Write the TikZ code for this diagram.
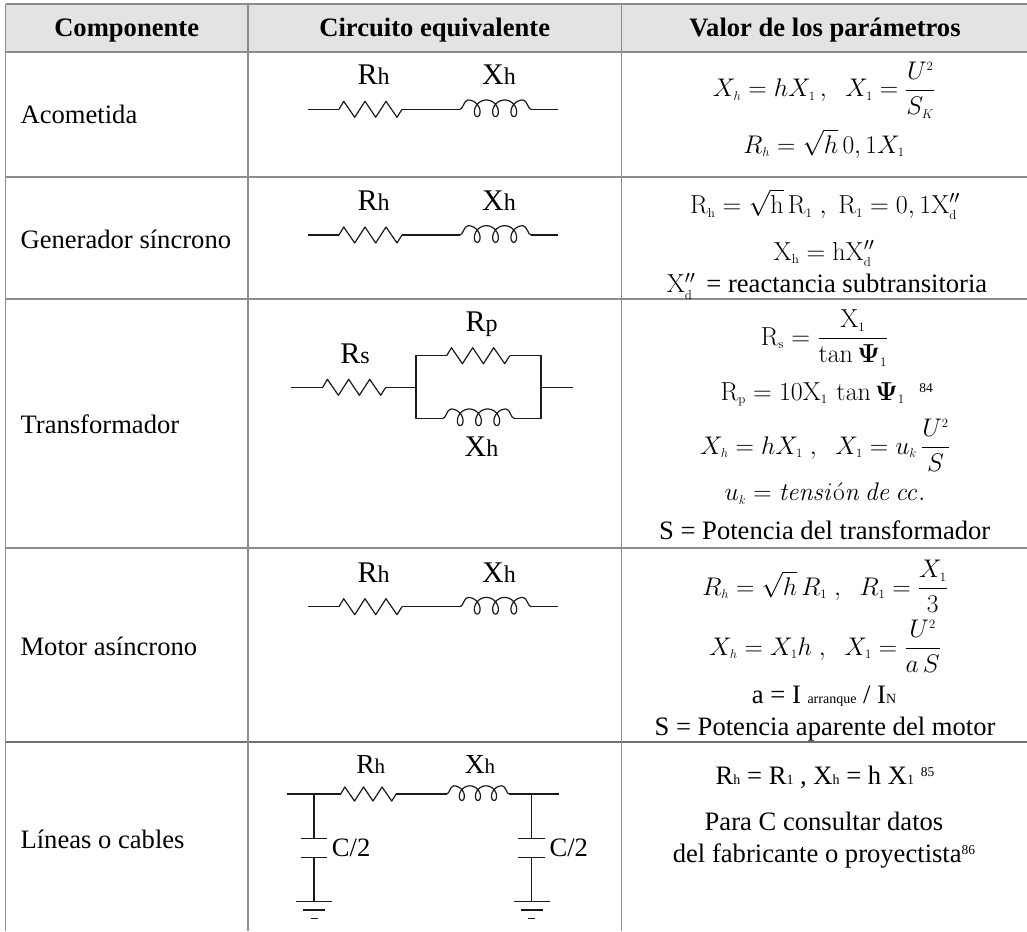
\RequirePackage{fix-cm}
\documentclass[tikz,border=0pt]{standalone}
\usepackage{amsmath}
\usepackage[no-math]{fontspec}
\setmainfont{Liberation Serif}
\newcommand\bodyf{\fontsize{26.6}{30}\selectfont}
\newcommand\sbs[1]{_{\scriptscriptstyle #1}}
\newcommand\sbr[1]{_{\scriptscriptstyle\mathrm{#1}}}
\newcommand\spt[1]{^{\scriptscriptstyle #1}}
\newcommand\Xdpp{\mathrm{X}^{\prime\prime}_{\scriptscriptstyle\mathrm{d}}}
\newcommand\tsb[1]{\raisebox{-0.5pt}{\fontsize{14}{14}\selectfont #1}}
\newcommand\tsp[1]{\raisebox{8pt}{\fontsize{13.5}{14}\selectfont #1}}
\newcommand\lab[2]{{\fontsize{30}{32}\selectfont #1}{\fontsize{24}{26}\selectfont #2}}
\newcommand\labsm[2]{{\fontsize{27.5}{30}\selectfont #1}{\fontsize{21}{24}\selectfont #2}}
\definecolor{rule}{HTML}{8C8C8C}
\definecolor{headfill}{HTML}{E3E3E3}
\definecolor{ink}{HTML}{1A1A1A}
\tikzset{
  x=1pt,y=-1pt,
  tablerule/.style={draw=rule,line width=1.5pt},
  wire/.style={draw=ink,line width=1.2pt,line join=round},
  headtext/.style={font=\bodyf\bfseries,inner sep=0pt,anchor=base},
  bodytext/.style={font=\bodyf,inner sep=0pt,anchor=base},
  rowtext/.style={font=\bodyf,inner sep=0pt,anchor=base west},
  complabel/.style={inner sep=0pt,anchor=base},
  formula/.style={font=\fontsize{25.5}{28}\selectfont,inner sep=0pt,anchor=base},
  romanformula/.style={font=\fontsize{26}{30}\selectfont,inner sep=0pt,anchor=base},
  resis/.pic={\draw[wire] (0,0)--(4.7,-8)--(15.7,8)--(26,-8)--(36.7,8)--(47,-8)--(58,8)--(63,0);},
  indu/.pic={\draw[wire,line cap=round] (0,0) .. controls (3,0) and (4,-9.3) .. (8.05,-9.3)
     -- plot[domain=-180:900,samples=160,variable=\t] ({17.2+0.050833*\t-6.8*sin(\t)},{-1+8.3*cos(\t)})
     .. controls (67,-9.3) and (68,0) .. (71,0);}
}
\newcommand\rxline[3]{% prefix, wire y, label baseline
  \coordinate (#1a) at (308,#2);
  \coordinate (#1b) at (339,#2);
  \coordinate (#1c) at (402,#2);
  \coordinate (#1d) at (460,#2);
  \coordinate (#1e) at (531,#2);
  \coordinate (#1f) at (558,#2);
  \draw[wire] (#1a)--(#1b) (#1c)--(#1d) (#1e)--(#1f);
  \pic at (#1b) {resis};
  \pic at (#1d) {indu};
  \node[complabel] (#1R) at (373.5,#3) {\lab{R}{h}};
  \node[complabel] (#1X) at (499,#3) {\lab{X}{h}};
}
\begin{document}
\begin{tikzpicture}
\useasboundingbox (0,0) rectangle (1027,931);
\fill[white] (0,0) rectangle (1027,931);
% table
\fill[headfill] (5.5,4) rectangle (1027,52);
\draw[tablerule] (5.5,4)--(1027,4);
\draw[tablerule] (5.5,52)--(1027,52);
\draw[tablerule] (5.5,177)--(1027,177);
\draw[tablerule] (5.5,299)--(1027,299);
\draw[tablerule] (5.5,548)--(1027,548);
\draw[tablerule,draw=rule!80!black] (5.5,742)--(1027,742);
\draw[tablerule] (5.5,4)--(5.5,931);
\draw[tablerule] (248,4)--(248,931);
\draw[tablerule] (621.7,4)--(621.7,931);
% header
\node[headtext] (h1) at (126.7,36.7) {Componente};
\node[headtext] (h2) at (434.7,36.7) {Circuito equivalente};
\node[headtext] (h3) at (825,36.7) {Valor de los parámetros};
% first column
\node[rowtext] (c1) at (20.4,124) {Acometida};
\node[rowtext] (c2) at (20.4,248) {Generador síncrono};
\node[rowtext] (c3) at (20.4,433.3) {Transformador};
\node[rowtext] (c4) at (20.4,655) {Motor asíncrono};
\node[rowtext] (c5) at (20.4,848.3) {Líneas o cables};
% circuits
\rxline{a}{109.3}{85}
\rxline{g}{235}{210.7}
\rxline{m}{606.7}{582.7}
% transformer
\coordinate (t0) at (291,387.3);
\coordinate (t1) at (322.7,387.3);
\coordinate (t2) at (385.7,387.3);
\coordinate (t3) at (416,387.3);
\coordinate (t4) at (541,387.3);
\coordinate (t5) at (572.7,387.3);
\coordinate (tu1) at (416,355.7);
\coordinate (tu2) at (446.7,355.7);
\coordinate (tu3) at (509.7,355.7);
\coordinate (tu4) at (541,355.7);
\coordinate (tl1) at (416,418.3);
\coordinate (tl2) at (443,418.3);
\coordinate (tl3) at (514,418.3);
\coordinate (tl4) at (541,418.3);
\draw[wire] (t0)--(t1) (t2)--(t3) (t4)--(t5);
\draw[wire] (tu2)--(tu1)--(tl1)--(tl2) (tu3)--(tu4)--(tl4)--(tl3);
\pic at (t1) {resis};
\pic at (tu2) {resis};
\pic at (tl2) {indu};
\node[complabel] (tRs) at (355,363.3) {\lab{R}{s}};
\node[complabel] (tRp) at (481.5,331.7) {\lab{R}{p}};
\node[complabel] (tXh) at (481.5,456.7) {\lab{X}{h}};
% line
\coordinate (l0) at (286.7,794);
\coordinate (lj1) at (314,794);
\coordinate (l1) at (340.7,794);
\coordinate (l2) at (396.1,794);
\coordinate (l3) at (446.7,794);
\coordinate (l4) at (509.2,794);
\coordinate (lj2) at (531.7,794);
\coordinate (l5) at (559.3,794);
\draw[wire] (l0)--(l1) (l2)--(l3) (l4)--(l5);
\pic[scale=.88] at (l1) {resis};
\pic[scale=.88] at (l3) {indu};
\foreach \p/\cx in {p/314,q/531.7}{
  \coordinate (\p t) at (\cx,794);
  \coordinate (\p a) at (\cx,838.3);
  \coordinate (\p b) at (\cx,857.7);
  \coordinate (\p g) at (\cx,901.7);
  \draw[wire] (\p t)--(\p a) (\p b)--(\p g);
  \draw[wire] (\cx-13.3,838.3)--(\cx+13.3,838.3);
  \draw[wire] (\cx-13.3,857.7)--(\cx+13.3,857.7);
  \draw[wire] (\cx-18,901.7)--(\cx+18,901.7);
  \draw[wire] (\cx-11,910)--(\cx+11,910);
  \draw[wire] (\cx-3.5,918.3)--(\cx+3.5,918.3);
}
\node[complabel] (lR) at (370.7,773) {\labsm{R}{h}};
\node[complabel] (lX) at (480,773) {\labsm{X}{h}};
\node[rowtext] (lC1) at (331.7,856) {C/2};
\node[rowtext] (lC2) at (549.3,856) {C/2};
% formulas row 1
\node[formula] (f1) at (824,96.7) {$X\sbs{h}=hX\sbr{1}\,,\;\;X\sbr{1}=\dfrac{U\spt{2}}{S\sbs{K}}$};
\node[formula] (f2) at (824,153) {$R\sbs{h}=\sqrt{h}\,0,1X\sbr{1}$};
% row 2
\node[romanformula] (f3) at (825,213.3) {$\mathrm{R}\sbr{h}=\sqrt{\mathrm{h}}\,\mathrm{R}\sbr{1}\;,\;\mathrm{R}\sbr{1}=0,1\Xdpp$};
\node[romanformula] (f4) at (824,260) {$\mathrm{X}\sbr{h}=\mathrm{h}\Xdpp$};
\node[romanformula] (f5) at (827,292.7) {$\Xdpp${\bodyf\, = reactancia subtransitoria}};
% row 3
\node[romanformula] (f6) at (824.5,345) {$\mathrm{R}\sbr{s}=\dfrac{\mathrm{X}\sbr{1}}{\tan\mathbf{\Psi}\sbr{1}}$};
\node[romanformula] (f7) at (826.7,400) {$\mathrm{R}\sbr{p}=10\mathrm{X}\sbr{1}\,\tan\mathbf{\Psi}\sbr{1}$\;\;\tsp{84}};
\node[formula] (f8) at (825,454) {$X\sbs{h}=hX\sbr{1}\;,\;\;X\sbr{1}=u\sbs{k}\,\dfrac{U\spt{2}}{S}$};
\node[formula] (f9) at (825,500.7) {$u\sbs{k}=\mathit{tensi}\acute{\mathrm{o}}\mathit{n}\,\mathit{de}\,\mathit{cc}.$};
\node[bodytext] (f10) at (824.7,539.3) {S = Potencia del transformador};
% row 4
\node[formula] (f11) at (825,595) {$R\sbs{h}=\sqrt{h}\,R\sbr{1}\;,\;\;R\sbr{1}=\dfrac{X\sbr{1}}{3}$};
\node[formula] (f12) at (825,655) {$X\sbs{h}=X\sbr{1}h\;,\;\;X\sbr{1}=\dfrac{U\spt{2}}{a\,S}$};
\node[bodytext] (f13) at (824,703) {a = I \tsb{arranque} / I\tsb{N}};
\node[bodytext] (f14) at (825,735) {S = Potencia aparente del motor};
% row 5
\node[bodytext] (f15) at (825,784) {R\tsb{h} = R\tsb{1} , X\tsb{h} = h X\tsb{1} \tsp{85}};
\node[bodytext] (f16) at (824,830.7) {Para C consultar datos};
\node[bodytext] (f17) at (824,862.7) {del fabricante o proyectista\tsp{86}};
\end{tikzpicture}
\end{document}
